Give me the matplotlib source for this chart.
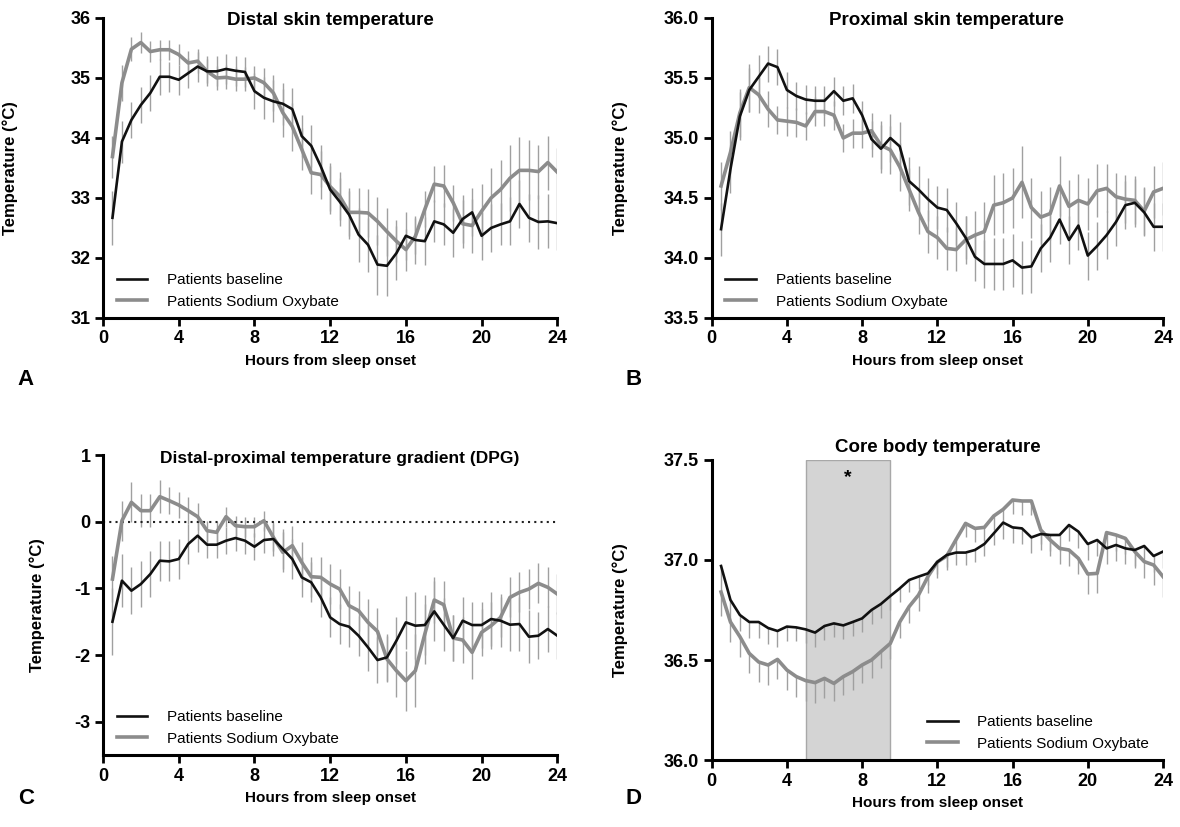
import matplotlib
matplotlib.use("Agg")
import matplotlib.pyplot as plt
import numpy as np

plt.rcParams['font.family'] = ['Liberation Sans', 'DejaVu Sans']
plt.rcParams['axes.unicode_minus'] = False

# half-hour bins from sleep onset
hours = np.arange(0.5, 24.01, 0.5)

# A - distal skin temperature
distal_base = [32.67, 33.94, 34.30, 34.55, 34.75, 35.02, 35.02, 34.97, 35.08, 35.19, 35.11, 35.11,
               35.15, 35.12, 35.10, 34.78, 34.67, 34.61, 34.57, 34.48, 34.03, 33.87, 33.53, 33.14,
               32.94, 32.72, 32.39, 32.22, 31.89, 31.87, 32.08, 32.37, 32.30, 32.28, 32.61, 32.56,
               32.42, 32.65, 32.76, 32.37, 32.50, 32.56, 32.61, 32.90, 32.67, 32.60, 32.61, 32.58]
distal_so = [33.69, 34.92, 35.48, 35.59, 35.44, 35.47, 35.47, 35.39, 35.25, 35.28, 35.11, 35.00,
             35.01, 34.98, 34.98, 35.00, 34.92, 34.75, 34.42, 34.19, 33.81, 33.42, 33.39, 33.19,
             33.03, 32.76, 32.76, 32.75, 32.61, 32.44, 32.28, 32.14, 32.36, 32.81, 33.23, 33.20,
             32.92, 32.57, 32.54, 32.78, 33.00, 33.14, 33.33, 33.46, 33.46, 33.44, 33.59, 33.43]
distal_base_sem = [0.45, 0.35, 0.3, 0.3, 0.3, 0.3, 0.25, 0.25, 0.25, 0.25, 0.25, 0.25,
                   0.25, 0.25, 0.25, 0.3, 0.35, 0.35, 0.35, 0.35, 0.35, 0.35, 0.35, 0.4,
                   0.4, 0.4, 0.45, 0.45, 0.5, 0.5, 0.45, 0.4, 0.4, 0.4, 0.35, 0.35,
                   0.4, 0.4, 0.4, 0.4, 0.4, 0.35, 0.4, 0.4, 0.4, 0.45, 0.45, 0.45]
distal_so_sem = [0.35, 0.3, 0.2, 0.17, 0.17, 0.17, 0.17, 0.17, 0.2, 0.2, 0.2, 0.2,
                 0.2, 0.2, 0.2, 0.2, 0.25, 0.3, 0.4, 0.4, 0.35, 0.35, 0.4, 0.4,
                 0.4, 0.4, 0.4, 0.4, 0.4, 0.4, 0.35, 0.35, 0.3, 0.3, 0.3, 0.35,
                 0.3, 0.4, 0.45, 0.45, 0.5, 0.5, 0.55, 0.55, 0.5, 0.45, 0.45, 0.4]

# B - proximal skin temperature
prox_base = [34.24, 34.74, 35.18, 35.40, 35.51, 35.62, 35.59, 35.40, 35.35, 35.32, 35.31, 35.31,
             35.39, 35.31, 35.33, 35.19, 34.99, 34.91, 35.00, 34.93, 34.64, 34.57, 34.49, 34.42,
             34.40, 34.29, 34.17, 34.01, 33.95, 33.95, 33.95, 33.98, 33.92, 33.93, 34.08, 34.17,
             34.32, 34.15, 34.27, 34.02, 34.10, 34.19, 34.30, 34.44, 34.46, 34.38, 34.26, 34.26]
prox_so = [34.60, 34.88, 35.21, 35.42, 35.36, 35.24, 35.15, 35.14, 35.13, 35.10, 35.22, 35.22,
           35.19, 35.00, 35.04, 35.04, 35.06, 34.94, 34.90, 34.76, 34.57, 34.38, 34.22, 34.17,
           34.08, 34.07, 34.15, 34.19, 34.22, 34.44, 34.46, 34.50, 34.63, 34.42, 34.34, 34.37,
           34.60, 34.43, 34.48, 34.45, 34.56, 34.58, 34.51, 34.49, 34.48, 34.39, 34.55, 34.58]
prox_base_sem = [0.22, 0.2, 0.2, 0.18, 0.18, 0.15, 0.15, 0.15, 0.12, 0.12, 0.12, 0.12,
                 0.12, 0.12, 0.12, 0.12, 0.15, 0.2, 0.2, 0.2, 0.2, 0.2, 0.18, 0.18,
                 0.18, 0.18, 0.18, 0.2, 0.2, 0.22, 0.22, 0.22, 0.22, 0.22, 0.2, 0.2,
                 0.2, 0.2, 0.2, 0.2, 0.2, 0.2, 0.2, 0.2, 0.2, 0.2, 0.2, 0.2]
prox_so_sem = [0.2, 0.18, 0.2, 0.2, 0.15, 0.15, 0.12, 0.12, 0.12, 0.12, 0.12, 0.12,
               0.12, 0.12, 0.12, 0.12, 0.15, 0.2, 0.2, 0.2, 0.18, 0.18, 0.18, 0.18,
               0.18, 0.18, 0.2, 0.2, 0.25, 0.25, 0.25, 0.25, 0.3, 0.25, 0.22, 0.22,
               0.25, 0.22, 0.22, 0.22, 0.22, 0.2, 0.2, 0.2, 0.2, 0.2, 0.22, 0.22]

# C - distal-proximal gradient
dpg_base = [-1.50, -0.885, -1.035, -0.935, -0.785, -0.585, -0.595, -0.56, -0.335, -0.21, -0.345, -0.345,
            -0.285, -0.245, -0.285, -0.375, -0.275, -0.26, -0.41, -0.56, -0.835, -0.91, -1.135, -1.435,
            -1.535, -1.575, -1.71, -1.885, -2.075, -2.035, -1.785, -1.51, -1.56, -1.55, -1.345, -1.545,
            -1.745, -1.485, -1.55, -1.55, -1.46, -1.485, -1.545, -1.535, -1.725, -1.71, -1.61, -1.71]
dpg_so = [-0.86, 0.015, 0.29, 0.165, 0.165, 0.375, 0.315, 0.25, 0.165, 0.075, -0.135, -0.16,
          0.075, -0.06, -0.075, -0.075, 0.015, -0.235, -0.46, -0.36, -0.61, -0.825, -0.835, -0.935,
          -1.01, -1.26, -1.335, -1.51, -1.645, -2.06, -2.235, -2.385, -2.235, -1.685, -1.175, -1.245,
          -1.745, -1.775, -1.96, -1.66, -1.56, -1.435, -1.135, -1.06, -1.01, -0.925, -0.985, -1.085]
dpg_base_sem = [0.5, 0.4, 0.35, 0.35, 0.35, 0.3, 0.3, 0.3, 0.3, 0.25, 0.2, 0.2,
                0.2, 0.2, 0.2, 0.2, 0.2, 0.25, 0.3, 0.3, 0.3, 0.3, 0.3, 0.3,
                0.3, 0.3, 0.3, 0.35, 0.35, 0.35, 0.35, 0.4, 0.5, 0.45, 0.45, 0.4,
                0.35, 0.35, 0.35, 0.35, 0.4, 0.4, 0.4, 0.4, 0.4, 0.35, 0.35, 0.35]
dpg_so_sem = [0.35, 0.3, 0.3, 0.25, 0.25, 0.25, 0.2, 0.2, 0.2, 0.2, 0.15, 0.15,
              0.15, 0.15, 0.15, 0.15, 0.15, 0.2, 0.3, 0.3, 0.3, 0.3, 0.3, 0.3,
              0.3, 0.3, 0.3, 0.35, 0.35, 0.35, 0.4, 0.45, 0.55, 0.45, 0.35, 0.35,
              0.35, 0.35, 0.4, 0.35, 0.35, 0.3, 0.3, 0.3, 0.3, 0.3, 0.3, 0.3]

# D - core body temperature
core_base = [36.97, 36.80, 36.725, 36.69, 36.69, 36.66, 36.645, 36.667, 36.663, 36.653, 36.637, 36.67,
             36.683, 36.673, 36.69, 36.708, 36.75, 36.78, 36.82, 36.858, 36.90, 36.917, 36.933, 36.99,
             37.025, 37.037, 37.037, 37.05, 37.08, 37.133, 37.187, 37.163, 37.158, 37.113, 37.13, 37.125,
             37.125, 37.175, 37.142, 37.08, 37.10, 37.058, 37.075, 37.058, 37.05, 37.07, 37.02, 37.042]
core_so = [36.84, 36.69, 36.617, 36.533, 36.49, 36.475, 36.503, 36.45, 36.417, 36.397, 36.387, 36.408,
           36.383, 36.417, 36.442, 36.475, 36.50, 36.542, 36.583, 36.69, 36.767, 36.825, 36.917, 36.99,
           37.02, 37.103, 37.183, 37.158, 37.163, 37.22, 37.253, 37.30, 37.295, 37.295, 37.15, 37.10,
           37.058, 37.05, 37.008, 36.93, 36.933, 37.137, 37.125, 37.108, 37.042, 36.992, 36.975, 36.917]
core_base_sem = [0.12, 0.1, 0.08, 0.08, 0.08, 0.08, 0.08, 0.07, 0.07, 0.07, 0.07, 0.07,
                 0.07, 0.07, 0.07, 0.07, 0.07, 0.07, 0.07, 0.07, 0.06, 0.06, 0.06, 0.06,
                 0.06, 0.06, 0.06, 0.06, 0.06, 0.06, 0.08, 0.08, 0.08, 0.08, 0.08, 0.08,
                 0.08, 0.08, 0.08, 0.08, 0.08, 0.08, 0.08, 0.08, 0.08, 0.08, 0.08, 0.08]
core_so_sem = [0.12, 0.1, 0.1, 0.1, 0.1, 0.1, 0.1, 0.1, 0.1, 0.1, 0.1, 0.1,
               0.09, 0.09, 0.09, 0.09, 0.09, 0.08, 0.08, 0.08, 0.08, 0.08, 0.08, 0.08,
               0.07, 0.07, 0.07, 0.07, 0.07, 0.07, 0.07, 0.07, 0.07, 0.07, 0.07, 0.08,
               0.08, 0.08, 0.08, 0.1, 0.1, 0.08, 0.08, 0.08, 0.08, 0.08, 0.1, 0.1]

sig_window = (5, 9.5)

BLACK = '#111111'
GRAY = '#8c8c8c'
BAR = '#a0a0a0'


def panel(ax, base, base_sem, so, so_sem, title, title_xy, title_size, ylim, yticks, yfmt,
          ylabel_x, down_only=False):
    base = np.array(base)
    so = np.array(so)
    if down_only:
        eb_so = [np.array(so_sem), np.zeros(len(so))]
        eb_base = [np.array(base_sem), np.zeros(len(base))]
    else:
        eb_so = so_sem
        eb_base = base_sem
    ax.errorbar(hours, so, yerr=eb_so, fmt='none', ecolor=BAR, elinewidth=1.0, capsize=0, zorder=1)
    ax.errorbar(hours, base, yerr=eb_base, fmt='none', ecolor=BAR, elinewidth=1.0, capsize=0, zorder=1)
    ax.plot(hours, so, color=GRAY, lw=2.6, zorder=3, label='Patients Sodium Oxybate')
    ax.plot(hours, base, color=BLACK, lw=1.9, zorder=4, label='Patients baseline')

    ax.set_xlim(0, 24)
    ax.set_ylim(*ylim)
    ax.set_xticks([0, 4, 8, 12, 16, 20, 24])
    ax.set_yticks(yticks)
    ax.set_yticklabels([yfmt.format(v) for v in yticks])
    for s in ['top', 'right']:
        ax.spines[s].set_visible(False)
    for s in ['left', 'bottom']:
        ax.spines[s].set_linewidth(2.2)
    ax.tick_params(width=2, length=6, labelsize=13, direction='out', pad=3)
    for lab in ax.get_xticklabels() + ax.get_yticklabels():
        lab.set_fontweight('bold')
    ax.text(title_xy[0], title_xy[1], title, transform=ax.transAxes, ha='center', va='center',
            fontsize=title_size, fontweight='bold')
    ax.set_xlabel('Hours from sleep onset', fontsize=11, fontweight='bold')
    ax.xaxis.set_label_coords(0.5, -0.12)
    ax.set_ylabel('Temperature (°C)', fontsize=12, fontweight='bold')
    ax.yaxis.set_label_coords(ylabel_x, 0.5)


fig = plt.figure(figsize=(11.8, 8.27), dpi=100)
axA = fig.add_axes([0.0873, 0.6155, 0.385, 0.3628])
axB = fig.add_axes([0.6031, 0.6155, 0.3825, 0.3628])
axC = fig.add_axes([0.0873, 0.0870, 0.385, 0.3628])
axD = fig.add_axes([0.6031, 0.0810, 0.3825, 0.3628])

panel(axA, distal_base, distal_base_sem, distal_so, distal_so_sem,
      'Distal skin temperature', (0.5, 0.993), 13.5, (31, 36), [31, 32, 33, 34, 35, 36], '{:.0f}', -0.187)
panel(axB, prox_base, prox_base_sem, prox_so, prox_so_sem,
      'Proximal skin temperature', (0.52, 0.993), 13.5, (33.5, 36.0),
      [33.5, 34.0, 34.5, 35.0, 35.5, 36.0], '{:.1f}', -0.186)
panel(axC, dpg_base, dpg_base_sem, dpg_so, dpg_so_sem,
      'Distal-proximal temperature gradient (DPG)', (0.52, 0.99), 12.5, (-3.5, 1), [-3, -2, -1, 0, 1],
      '{:.0f}', -0.128)
axC.axhline(0, color='#222222', lw=1.5, ls=(0, (1, 2)), zorder=2)

axD.axvspan(sig_window[0], sig_window[1], ymin=0, ymax=1, facecolor='#d4d4d4',
            edgecolor='#a8a8a8', lw=1, zorder=0)
panel(axD, core_base, core_base_sem, core_so, core_so_sem,
      'Core body temperature', (0.5, 1.043), 13.5, (36.0, 37.5), [36.0, 36.5, 37.0, 37.5], '{:.1f}',
      -0.186, down_only=True)
axD.text(sum(sig_window) / 2, 37.41, '*', ha='center', va='center', fontsize=14, fontweight='bold')

for ax, loc, anchor in [(axA, 'lower left', (0.0, -0.015)), (axB, 'lower left', (0.0, -0.015)),
                        (axC, 'lower left', (0.0, -0.015)), (axD, 'lower right', (1.0, -0.015))]:
    h, l = ax.get_legend_handles_labels()
    ax.legend(h[::-1], l[::-1], loc=loc, bbox_to_anchor=anchor, frameon=False, fontsize=11,
              handlelength=2.0, handletextpad=1.3, labelspacing=0.5)

for letter, x, y in [('A', 0.015, 0.535), ('B', 0.530, 0.535), ('C', 0.015, 0.028), ('D', 0.530, 0.028)]:
    fig.text(x, y, letter, fontsize=16, fontweight='bold')

fig.savefig('out.png', dpi=100)
